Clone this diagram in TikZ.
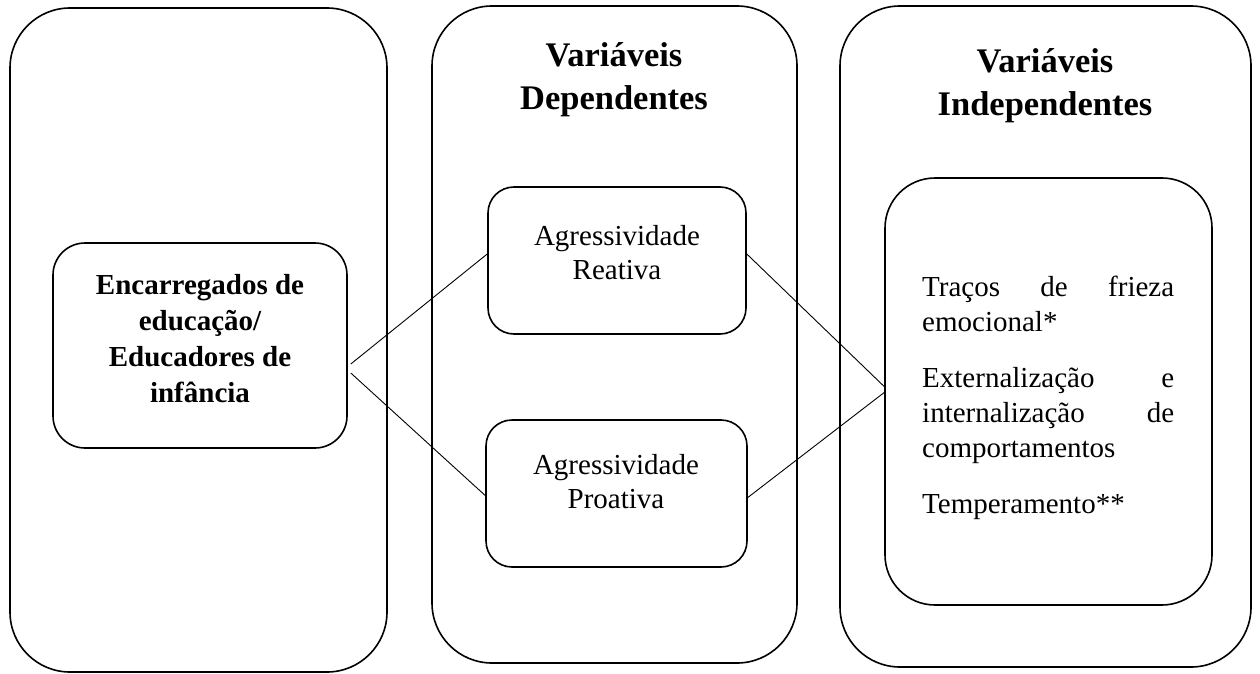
\documentclass[tikz,border=0pt]{standalone}
\usepackage{fontspec}
\setmainfont{Liberation Serif}
\begin{document}
\begin{tikzpicture}[x=1pt,y=1pt,
  outerbox/.style={draw, line width=1.6pt, rounded corners=60pt, inner sep=0pt},
  innerbox/.style={draw, line width=1.6pt, inner sep=0pt},
  conn/.style={line width=0.9pt},
  headtxt/.style={font=\bfseries\fontsize{34.5}{43}\selectfont, align=center, anchor=base, inner sep=0pt},
  bodytxt/.style={font=\fontsize{29}{34}\selectfont, align=center, anchor=base, inner sep=0pt},
  boldtxt/.style={font=\bfseries\fontsize{29}{36}\selectfont, align=center, anchor=base, inner sep=0pt}]
\useasboundingbox (0,0) rectangle (1260,-674);
% outer boxes
\node[outerbox, minimum width=377pt, minimum height=664pt] (L) at (198.5,-340) {};
\node[outerbox, minimum width=365pt, minimum height=657pt] (M) at (614.5,-334.5) {};
\node[outerbox, minimum width=411pt, minimum height=661pt] (R) at (1045.5,-336.5) {};
% inner boxes
\node[innerbox, rounded corners=32pt, minimum width=294pt, minimum height=205pt] (enc) at (200,-345.5) {};
\node[innerbox, rounded corners=26pt, minimum width=258pt, minimum height=147pt] (rea) at (617,-260.5) {};
\node[innerbox, rounded corners=26pt, minimum width=261pt, minimum height=147pt] (pro) at (616.5,-493.5) {};
\node[innerbox, rounded corners=50pt, minimum width=327pt, minimum height=427pt] (ind) at (1048.5,-391.5) {};
% headings (anchor base = last line)
\node[headtxt] (hm) at (614,-110) {Variáveis\\Dependentes};
\node[headtxt] (hr) at (1045,-116) {Variáveis\\Independentes};
% texts
\node[boldtxt] (tenc) at (200,-402) {Encarregados de\\educação/\\Educadores de\\infância};
\node[bodytxt] (trea) at (617,-279) {Agressividade\\Reativa};
\node[bodytxt] (tpro) at (616,-508) {Agressividade\\Proativa};
\node[font=\fontsize{29}{35}\selectfont, text width=252pt, align=left, anchor=base west, inner sep=0pt] (tind) at (922,-296)
  {Traços\hfill de\hfill frieza\\emocional*\\[21pt]Externalização\hfill e\\internalização\hfill de\\comportamentos\\[21pt]Temperamento**};
% connectors
\coordinate (e1) at ([xshift=3pt,yshift=-18.5pt]enc.east);
\coordinate (e2) at ([xshift=3pt,yshift=-27.5pt]enc.east);
\coordinate (r1) at ([yshift=6.5pt]rea.west);
\coordinate (p1) at ([yshift=-2pt]pro.west);
\coordinate (r2) at ([yshift=6.5pt]rea.east);
\coordinate (p2) at ([yshift=-4pt]pro.east);
\coordinate (i1) at ([yshift=5pt]ind.west);
\coordinate (i2) at ([yshift=-1pt]ind.west);
\draw[conn] (e1) -- (r1);
\draw[conn] (e2) -- (p1);
\draw[conn] (r2) -- (i1);
\draw[conn] (p2) -- (i2);
\end{tikzpicture}
\end{document}
